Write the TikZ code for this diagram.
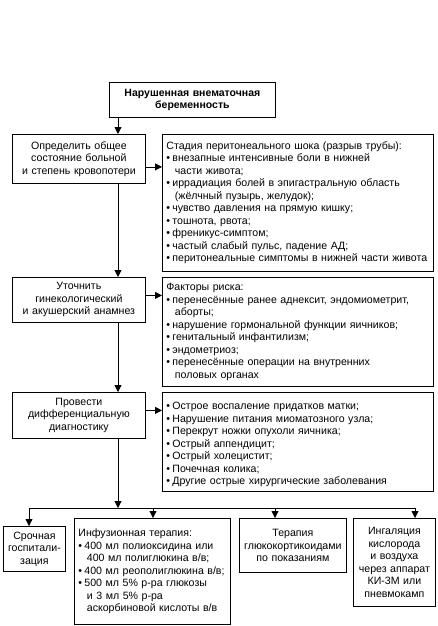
\documentclass[tikz,border=0pt]{standalone}
\usepackage{fontspec}
\setmainfont{Liberation Sans}
\usetikzlibrary{arrows.meta,positioning,calc}

\newcommand{\fs}{\fontsize{10.6}{12.5}\selectfont}
\newcommand{\itm}[1]{\par\hangindent=8.5pt\hangafter=1\makebox[6pt][l]{•}#1\par}

\begin{document}
\begin{tikzpicture}[x=1pt,y=-1pt,
    every node/.style={font=\fs},
    box/.style={draw,line width=0.8pt,anchor=north west,inner xsep=2pt,inner ysep=0pt,align=center},
    list/.style={box,inner xsep=4pt,align=left},
    conn/.style={line width=0.8pt,-{Triangle[width=7pt,length=7pt]}}]
  \fill[white] (0,0) rectangle (438,626);
  \useasboundingbox (0,0) rectangle (438,626);

  \node[box,text width=162pt,minimum height=35pt,font=\fontsize{10.5}{12.5}\selectfont\bfseries] (ectop) at (109,82)
    {Нарушенная внематочная\\беременность};

  \node[box,text width=129pt,minimum height=49pt] (state) at (12,134)
    {Определить общее\\состояние больной\\и степень кровопотери};
  \node[list,text width=263pt,minimum height=137pt] (shock) at (162,134)
    {Стадия перитонеального шока (разрыв трубы):
     \itm{внезапные интенсивные боли в нижней\newline части живота;}
     \itm{иррадиация болей в эпигастральную область\newline (жёлчный пузырь, желудок);}
     \itm{чувство давления на прямую кишку;}
     \itm{тошнота, рвота;}
     \itm{френикус-симптом;}
     \itm{частый слабый пульс, падение АД;}
     \itm{перитонеальные симптомы в нижней части живота}};

  \node[box,text width=129pt,minimum height=45pt] (anamn) at (12,277)
    {Уточнить\\гинекологический\\и акушерский анамнез};
  \node[list,text width=263pt,minimum height=109pt] (risk) at (162,277)
    {Факторы риска:
     \itm{перенесённые ранее аднексит, эндомиометрит,\newline аборты;}
     \itm{нарушение гормональной функции яичников;}
     \itm{генитальный инфантилизм;}
     \itm{эндометриоз;}
     \itm{перенесённые операции на внутренних\newline половых органах}};

  \node[box,text width=129pt,minimum height=46pt] (diagn) at (12,392)
    {Провести\\дифференциальную\\диагностику};
  \node[list,text width=263pt,minimum height=99pt] (diff) at (162,392)
    {\itm{Острое воспаление придатков матки;}
     \itm{Нарушение питания миоматозного узла;}
     \itm{Перекрут ножки опухоли яичника;}
     \itm{Острый аппендицит;}
     \itm{Острый холецистит;}
     \itm{Почечная колика;}
     \itm{Другие острые хирургические заболевания}};

  \node[box,text width=58pt,minimum height=45pt] (hosp) at (3,526)
    {Срочная\\госпитали-\\зация};
  \node[list,inner xsep=4pt,text width=148pt,minimum height=106pt] (infus) at (74,518)
    {Инфузионная терапия:
     \itm{400 мл полиоксидина или\newline 400 мл полиглюкина в/в;}
     \itm{\mbox{400 мл реополиглюкина в/в;}}
     \itm{500 мл 5\% р-ра глюкозы\newline и 3 мл 5\% р-ра\newline аскорбиновой кислоты в/в}};
  \node[box,text width=103pt,minimum height=54pt] (gluco) at (239,518)
    {Терапия\\глюкокортикоидами\\по показаниям};
  \node[box,text width=78pt,minimum height=88pt] (oxyg) at (353,518)
    {Ингаляция\\кислорода\\и воздуха\\через аппарат\\КИ-3М или\\пневмокамп};

  \coordinate (spine) at (118,0);
  \coordinate (bus) at (118,508);
  \draw[conn] (spine |- ectop.south) -- (spine |- state.north);
  \draw[conn] (spine |- state.south) -- (spine |- anamn.north);
  \draw[conn] (spine |- anamn.south) -- (spine |- diagn.north);
  \draw[conn] (spine |- diagn.south) -- (bus);
  \draw[conn] ([yshift=-8pt]state.east) -- ([yshift=-8pt]state.east -| shock.west);
  \draw[conn] ([yshift=4.5pt]anamn.east) -- ([yshift=4.5pt]anamn.east -| risk.west);
  \draw[conn] ([yshift=5pt]diagn.east) -- ([yshift=5pt]diagn.east -| diff.west);

  \foreach \n/\x in {hosp/29,infus/153,gluco/275,oxyg/415} {
    \coordinate (b\n) at (\x,508);
    \draw[conn] (b\n) -- (b\n |- \n.north);
  }
  \draw[line width=0.8pt] (bhosp) -- (boxyg);
\end{tikzpicture}
\end{document}
